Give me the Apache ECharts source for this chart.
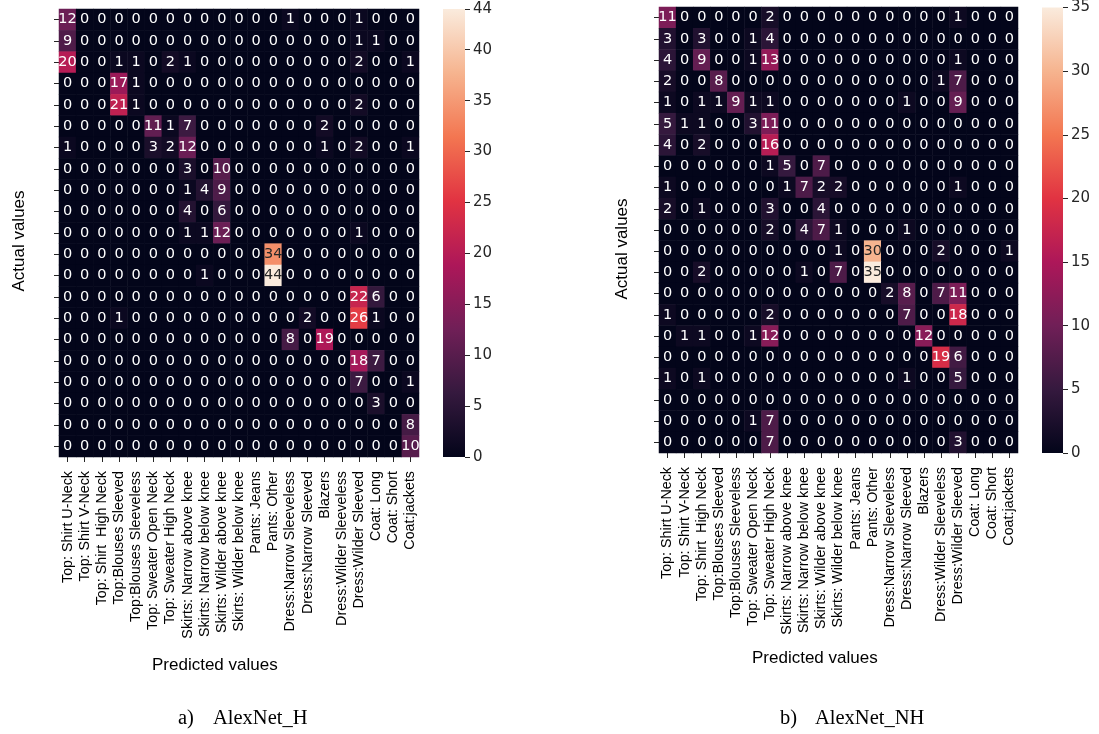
<!DOCTYPE html>
<html>
<head>
<meta charset="utf-8">
<script src="https://cdn.jsdelivr.net/npm/echarts@6/dist/echarts.min.js"></script>
<style>html,body{margin:0;padding:0;background:#fff;}#main{width:1099px;height:734px;}</style>
</head>
<body>
<div id="main"></div>
<script>
const categories = [
  "Top: Shirt U-Neck","Top: Shirt V-Neck","Top: Shirt  High Neck","Top:Blouses Sleeved",
  "Top:Blouses Sleeveless","Top: Sweater Open Neck","Top: Sweater High Neck",
  "Skirts: Narrow above knee","Skirts: Narrow below knee","Skirts: Wilder above knee",
  "Skirts: Wilder below knee","Pants: Jeans","Pants: Other","Dress:Narrow Sleeveless",
  "Dress:Narrow Sleeved","Blazers","Dress:Wilder Sleeveless","Dress:Wilder Sleeved",
  "Coat: Long","Coat: Short","Coat:jackets"
];

const alexnetH = [
  [12,0,0,0,0,0,0,0,0,0,0,0,0,1,0,0,0,1,0,0,0],
  [9,0,0,0,0,0,0,0,0,0,0,0,0,0,0,0,0,1,1,0,0],
  [20,0,0,1,1,0,2,1,0,0,0,0,0,0,0,0,0,2,0,0,1],
  [0,0,0,17,1,0,0,0,0,0,0,0,0,0,0,0,0,0,0,0,0],
  [0,0,0,21,1,0,0,0,0,0,0,0,0,0,0,0,0,2,0,0,0],
  [0,0,0,0,0,11,1,7,0,0,0,0,0,0,0,2,0,0,0,0,0],
  [1,0,0,0,0,3,2,12,0,0,0,0,0,0,0,1,0,2,0,0,1],
  [0,0,0,0,0,0,0,3,0,10,0,0,0,0,0,0,0,0,0,0,0],
  [0,0,0,0,0,0,0,1,4,9,0,0,0,0,0,0,0,0,0,0,0],
  [0,0,0,0,0,0,0,4,0,6,0,0,0,0,0,0,0,0,0,0,0],
  [0,0,0,0,0,0,0,1,1,12,0,0,0,0,0,0,0,1,0,0,0],
  [0,0,0,0,0,0,0,0,0,0,0,0,34,0,0,0,0,0,0,0,0],
  [0,0,0,0,0,0,0,0,1,0,0,0,44,0,0,0,0,0,0,0,0],
  [0,0,0,0,0,0,0,0,0,0,0,0,0,0,0,0,0,22,6,0,0],
  [0,0,0,1,0,0,0,0,0,0,0,0,0,0,2,0,0,26,1,0,0],
  [0,0,0,0,0,0,0,0,0,0,0,0,0,8,0,19,0,0,0,0,0],
  [0,0,0,0,0,0,0,0,0,0,0,0,0,0,0,0,0,18,7,0,0],
  [0,0,0,0,0,0,0,0,0,0,0,0,0,0,0,0,0,7,0,0,1],
  [0,0,0,0,0,0,0,0,0,0,0,0,0,0,0,0,0,0,3,0,0],
  [0,0,0,0,0,0,0,0,0,0,0,0,0,0,0,0,0,0,0,0,8],
  [0,0,0,0,0,0,0,0,0,0,0,0,0,0,0,0,0,0,0,0,10]
];

const alexnetNH = [
  [11,0,0,0,0,0,2,0,0,0,0,0,0,0,0,0,0,1,0,0,0],
  [3,0,3,0,0,1,4,0,0,0,0,0,0,0,0,0,0,0,0,0,0],
  [4,0,9,0,0,1,13,0,0,0,0,0,0,0,0,0,0,1,0,0,0],
  [2,0,0,8,0,0,0,0,0,0,0,0,0,0,0,0,1,7,0,0,0],
  [1,0,1,1,9,1,1,0,0,0,0,0,0,0,1,0,0,9,0,0,0],
  [5,1,1,0,0,3,11,0,0,0,0,0,0,0,0,0,0,0,0,0,0],
  [4,0,2,0,0,0,16,0,0,0,0,0,0,0,0,0,0,0,0,0,0],
  [0,0,0,0,0,0,1,5,0,7,0,0,0,0,0,0,0,0,0,0,0],
  [1,0,0,0,0,0,0,1,7,2,2,0,0,0,0,0,0,1,0,0,0],
  [2,0,1,0,0,0,3,0,0,4,0,0,0,0,0,0,0,0,0,0,0],
  [0,0,0,0,0,0,2,0,4,7,1,0,0,0,1,0,0,0,0,0,0],
  [0,0,0,0,0,0,0,0,0,0,1,0,30,0,0,0,2,0,0,0,1],
  [0,0,2,0,0,0,0,0,1,0,7,0,35,0,0,0,0,0,0,0,0],
  [0,0,0,0,0,0,0,0,0,0,0,0,0,2,8,0,7,11,0,0,0],
  [1,0,0,0,0,0,2,0,0,0,0,0,0,0,7,0,0,18,0,0,0],
  [0,1,1,0,0,1,12,0,0,0,0,0,0,0,0,12,0,0,0,0,0],
  [0,0,0,0,0,0,0,0,0,0,0,0,0,0,0,0,19,6,0,0,0],
  [1,0,1,0,0,0,0,0,0,0,0,0,0,0,1,0,0,5,0,0,0],
  [0,0,0,0,0,0,0,0,0,0,0,0,0,0,0,0,0,0,0,0,0],
  [0,0,0,0,0,1,7,0,0,0,0,0,0,0,0,0,0,0,0,0,0],
  [0,0,0,0,0,0,7,0,0,0,0,0,0,0,0,0,0,3,0,0,0]
];

const maxH = 44, maxNH = 35;
const colorbarTicks = 5;
const rocket = ["#03051a","#35193e","#701f57","#ad1759","#e13342","#f37651","#f6b48f","#faebdd"];

function cells(m, vmax) {
  const out = [];
  m.forEach((row, r) => row.forEach((v, c) => {
    out.push({ value: [c, r, v], label: { color: v / vmax > 0.62 ? "#262626" : "#ffffff" } });
  }));
  return out;
}
const gradient = () => new echarts.graphic.LinearGradient(0, 1, 0, 0,
  rocket.map((c, i) => ({ offset: i / (rocket.length - 1), color: c })));

const chart = echarts.init(document.getElementById('main'), null, { renderer: 'canvas' });

const hmX = (gi) => ({
  type: 'category', gridIndex: gi, data: categories, position: 'bottom',
  axisLine: { show: false }, splitArea: { show: false },
  axisTick: { show: true, alignWithLabel: true, length: 5, lineStyle: { color: '#262626' } },
  axisLabel: { rotate: 90, interval: 0, fontFamily: 'Liberation Sans', fontSize: 14.3, color: '#000', margin: 14 }
});
const hmY = (gi) => ({
  type: 'category', gridIndex: gi, data: categories, inverse: true,
  axisLine: { show: false }, splitArea: { show: false },
  axisTick: { show: true, alignWithLabel: true, length: 5, lineStyle: { color: '#262626' } },
  axisLabel: { show: false }
});
const cbY = (gi, vmax) => ({
  type: 'value', gridIndex: gi, min: 0, max: vmax, interval: colorbarTicks, position: 'right',
  axisLine: { show: false }, splitLine: { show: false },
  axisTick: { show: true, length: 5, lineStyle: { color: '#262626' } },
  axisLabel: { fontFamily: 'DejaVu Sans', fontSize: 15, color: '#262626', margin: 8 }
});
const cbX = (gi) => ({ type: 'category', gridIndex: gi, data: ['cb'], show: false });

const labelStyle = { show: true, fontFamily: 'DejaVu Sans', fontSize: 14.5, formatter: p => p.value[2] };
const titleFont = { fontFamily: 'Liberation Sans', fontSize: 17, fill: '#000' };
const capFont = { fontFamily: 'Liberation Serif', fontSize: 20.5, fill: '#000' };

chart.setOption({
  animation: false,
  grid: [
    { left: 59, top: 9, width: 360, height: 448 },
    { left: 659, top: 7, width: 359, height: 446 },
    { left: 443, top: 9, width: 22, height: 448 },
    { left: 1042, top: 7, width: 21, height: 446 }
  ],
  xAxis: [hmX(0), hmX(1), cbX(2), cbX(3)],
  yAxis: [hmY(0), hmY(1), cbY(2, maxH), cbY(3, maxNH)],
  visualMap: [
    { show: false, min: 0, max: maxH, seriesIndex: 0, inRange: { color: rocket } },
    { show: false, min: 0, max: maxNH, seriesIndex: 1, inRange: { color: rocket } }
  ],
  series: [
    { type: 'heatmap', xAxisIndex: 0, yAxisIndex: 0, data: cells(alexnetH, maxH), label: labelStyle,
      itemStyle: { borderWidth: 0 }, emphasis: { disabled: true } },
    { type: 'heatmap', xAxisIndex: 1, yAxisIndex: 1, data: cells(alexnetNH, maxNH), label: labelStyle,
      itemStyle: { borderWidth: 0 }, emphasis: { disabled: true } },
    { type: 'bar', xAxisIndex: 2, yAxisIndex: 2, data: [maxH], barWidth: '100%', itemStyle: { color: gradient() }, silent: true },
    { type: 'bar', xAxisIndex: 3, yAxisIndex: 3, data: [maxNH], barWidth: '100%', itemStyle: { color: gradient() }, silent: true }
  ],
  graphic: [
    { type: 'text', left: 152, top: 657, style: Object.assign({ text: 'Predicted values' }, titleFont) },
    { type: 'text', left: 752, top: 650, style: Object.assign({ text: 'Predicted values' }, titleFont) },
    { type: 'text', x: 19, y: 241, rotation: Math.PI / 2, style: Object.assign({ text: 'Actual values', align: 'center', verticalAlign: 'middle' }, titleFont) },
    { type: 'text', x: 622, y: 249, rotation: Math.PI / 2, style: Object.assign({ text: 'Actual values', align: 'center', verticalAlign: 'middle' }, titleFont) },
    { type: 'text', left: 178, top: 708, style: Object.assign({ text: 'a)' }, capFont) },
    { type: 'text', left: 213, top: 708, style: Object.assign({ text: 'AlexNet_H' }, capFont) },
    { type: 'text', left: 780, top: 708, style: Object.assign({ text: 'b)' }, capFont) },
    { type: 'text', left: 815, top: 708, style: Object.assign({ text: 'AlexNet_NH' }, capFont) }
  ]
});
</script>
</body>
</html>
